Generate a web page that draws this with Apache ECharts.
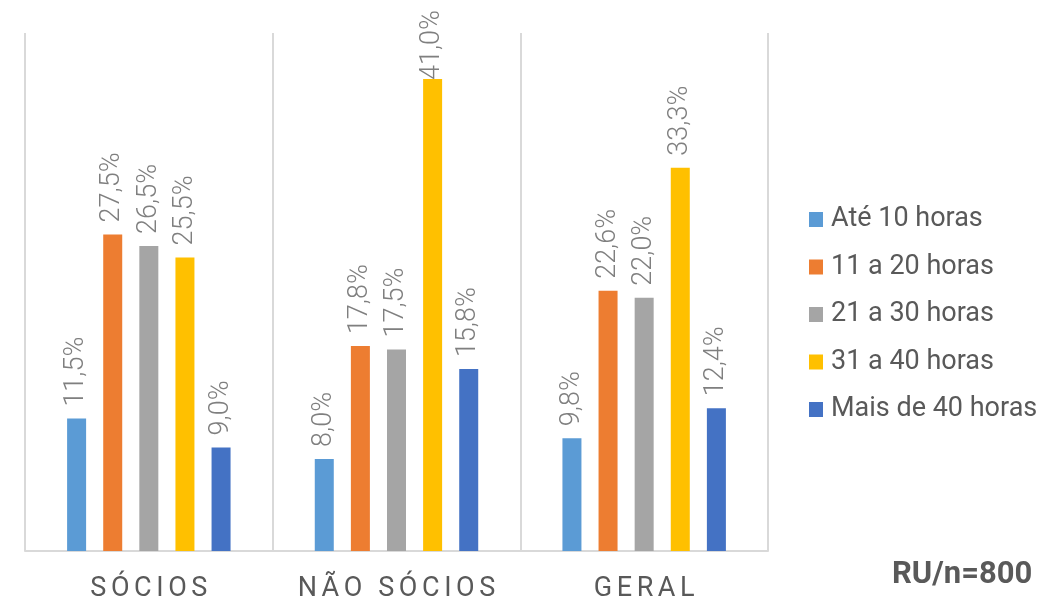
<!DOCTYPE html>
<html>
<head>
<meta charset="utf-8">
<style>
  html, body { margin: 0; padding: 0; background: #fff; }
  #chart { width: 1040px; height: 596px; }
</style>
<script src="https://cdn.jsdelivr.net/npm/echarts@6/dist/echarts.min.js"></script>
</head>
<body>
<div id="chart"></div>
<script>
// Weekly hours worked, by group
const categories = ['SÓCIOS', 'NÃO SÓCIOS', 'GERAL'];
const seriesNames = ['Até 10 horas', '11 a 20 horas', '21 a 30 horas', '31 a 40 horas', 'Mais de 40 horas'];
const ate10 = [11.5, 8.0, 9.8];
const de11a20 = [27.5, 17.8, 22.6];
const de21a30 = [26.5, 17.5, 22.0];
const de31a40 = [25.5, 41.0, 33.3];
const mais40 = [9.0, 15.8, 12.4];
const seriesValues = [ate10, de11a20, de21a30, de31a40, mais40];
const colors = ['#5B9BD5', '#ED7D31', '#A5A5A5', '#FFC000', '#4472C4'];
const sampleNote = 'RU/n=800';

const FONT = 'Roboto, "Noto Sans", sans-serif';
const LABEL_FONT_SIZE = 27;
const LABEL_GAP = 12;
const LABEL_TOP_LIMIT = 10;
const spaced = s => s.split('').join('\u2006');
const pct = v => v.toFixed(1).replace('.', ',') + '%';

const chart = echarts.init(document.getElementById('chart'), null, { renderer: 'canvas' });

const labelStyle = {
  show: true,
  position: 'top',
  distance: LABEL_GAP,
  rotate: 90,
  align: 'left',
  verticalAlign: 'middle',
  fontFamily: FONT,
  fontSize: LABEL_FONT_SIZE,
  fontWeight: 300,
  color: '#7f7f7f',
  formatter: p => pct(p.value)
};

chart.setOption({
  animation: false,
  backgroundColor: '#ffffff',
  color: colors,
  grid: { left: 25, right: 272, top: 33, bottom: 45, containLabel: false, outerBoundsMode: 'none' },
  legend: {
    orient: 'vertical',
    left: 809,
    top: 206,
    padding: 0,
    itemWidth: 14,
    itemHeight: 15,
    itemGap: 20.5,
    icon: 'rect',
    textStyle: { fontFamily: FONT, fontSize: 27, color: '#595959', lineHeight: 27, padding: [0, 0, 0, 3] },
    data: seriesNames
  },
  xAxis: {
    type: 'category',
    data: categories,
    axisLine: { show: true, lineStyle: { color: '#d9d9d9', width: 2 } },
    axisTick: { show: false },
    splitLine: { show: true, lineStyle: { color: '#d9d9d9', width: 2 } },
    axisLabel: {
      interval: 0,
      fontFamily: FONT, fontSize: 27, color: '#595959', margin: 25,
      formatter: v => spaced(v)
    }
  },
  yAxis: {
    type: 'value',
    min: 0, max: 45,
    show: false,
    splitLine: { show: false }
  },
  series: seriesNames.map((name, i) => ({
    name,
    type: 'bar',
    data: seriesValues[i],
    barGap: '90%',
    barCategoryGap: '34%',
    label: labelStyle
  })),
  graphic: [{
    type: 'text',
    left: 892,
    top: 560,
    style: { text: sampleNote, fontFamily: FONT, fontSize: 31, fontWeight: 'bold', fill: '#595959' }
  }]
});

// Labels that would run past the top edge are pulled down so they stay visible.
const ctx = document.createElement('canvas').getContext('2d');
ctx.font = `300 ${LABEL_FONT_SIZE}px ${FONT}`;
chart.setOption({
  series: seriesValues.map(values => ({
    data: values.map(v => {
      const barTop = chart.convertToPixel({ yAxisIndex: 0 }, v);
      const textTop = barTop - LABEL_GAP - ctx.measureText(pct(v)).width;
      if (textTop >= LABEL_TOP_LIMIT) return v;
      return { value: v, label: { distance: LABEL_GAP - (LABEL_TOP_LIMIT - textTop) } };
    })
  }))
});
</script>
</body>
</html>
